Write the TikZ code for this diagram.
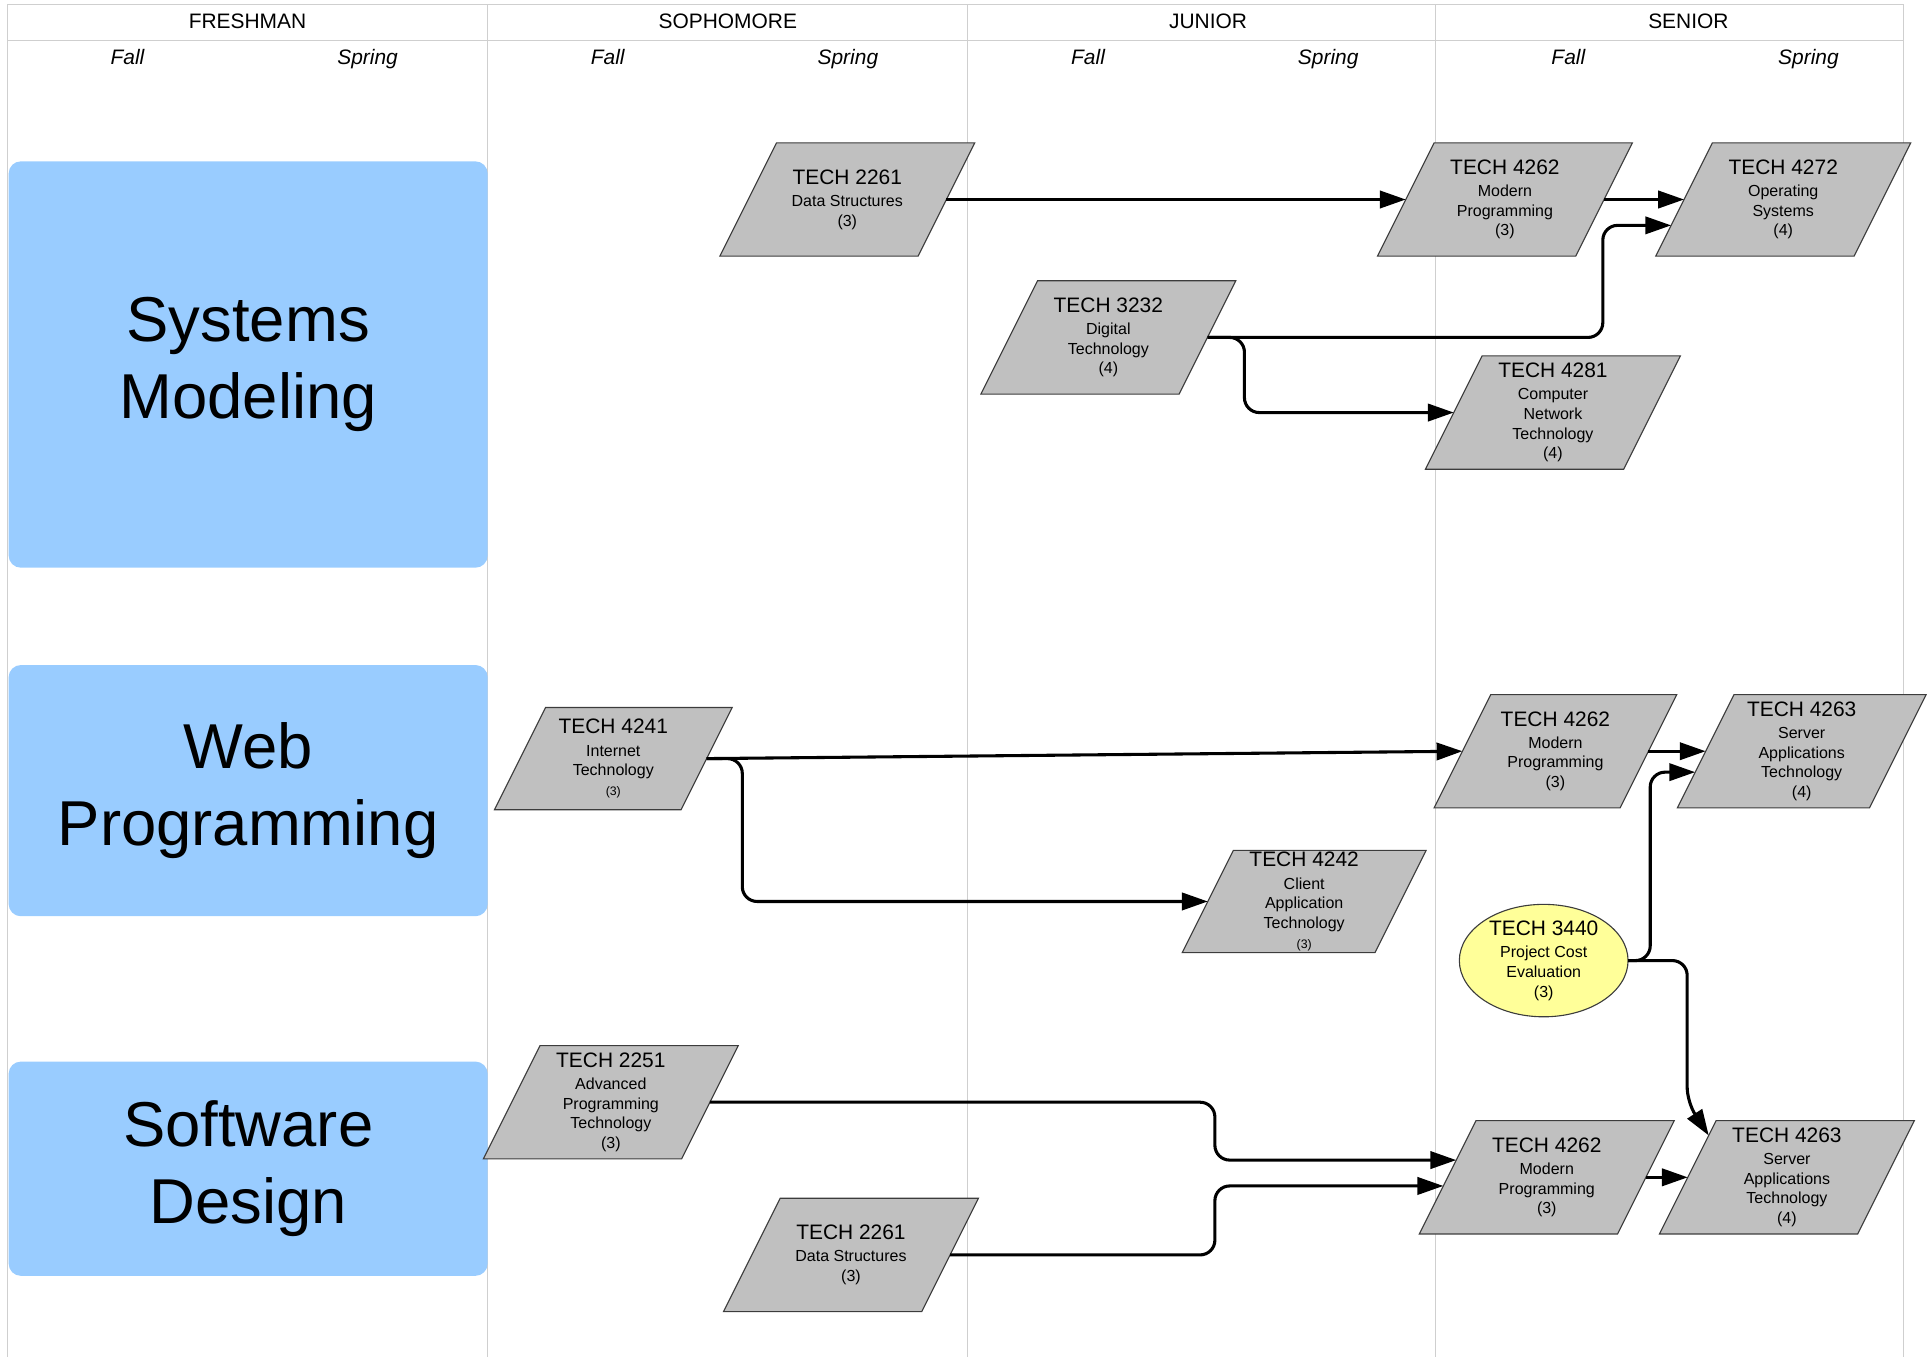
\documentclass[tikz,border=0pt]{standalone}
\usepackage{fontspec}
\setmainfont{Liberation Sans}
\usetikzlibrary{shapes.geometric,arrows.meta,calc}
\definecolor{trackblue}{HTML}{99CCFF}
\definecolor{coursegray}{HTML}{C0C0C0}
\definecolor{courseline}{HTML}{3C3C3C}
\definecolor{electyellow}{HTML}{FFFF99}
\definecolor{gridgray}{HTML}{CFCFCF}
\newcommand{\crs}[2]{{\fontsize{17}{19}\selectfont #1}\\[2pt]#2}
\newcommand{\tinycr}[1]{{\fontsize{10}{12}\selectfont #1}}
% course box: name, x, y, side length, height, text
\newcommand{\course}[6]{%
  \filldraw[coursebox] ({#2-#4/2-#5/4},{#3+#5/2}) -- ++(#4,0) -- ++({#5/2},{-#5})
      -- ++({-#4},0) -- cycle;
  \node[coursetext, minimum width=#4pt, minimum height=#5pt] (#1) at (#2,#3) {#6};
}
\tikzset{
  gridline/.style={gridgray, line width=0.8pt},
  yearlabel/.style={anchor=base, font=\fontsize{17}{20}\selectfont},
  termlabel/.style={anchor=base, font=\fontsize{17}{20}\selectfont\itshape},
  track/.style={fill=trackblue, rounded corners=10pt, align=center, inner sep=0pt,
    minimum width=389pt, font=\fontsize{51.5}{62}\selectfont},
  coursebox/.style={draw=courseline, fill=coursegray, line width=0.9pt},
  coursetext/.style={inner sep=0pt, outer sep=0pt, align=center,
    font=\fontsize{13}{16}\selectfont},
  elective/.style={ellipse, draw=courseline, fill=electyellow, line width=0.9pt,
    inner sep=0pt, outer sep=0pt, align=center, minimum width=137pt, minimum height=88pt,
    font=\fontsize{13}{16}\selectfont},
  prereq/.style={line width=2.5pt, rounded corners=12pt, -{Triangle[length=21pt,width=14pt]}},
}
\begin{document}
\begin{tikzpicture}[x=1pt,y=-1pt]
    \useasboundingbox (0,0) rectangle (1568,1102);
    % Grid
    \draw[gridline] (6,4) -- (1546,4);
    \draw[gridline] (6,33) -- (1546,33);
    \foreach \gx in {6,396,786,1166,1546}
        \draw[gridline] (\gx,4) -- (\gx,1102);
    \foreach \yr [count=\i from 0] in {FRESHMAN,SOPHOMORE,JUNIOR,SENIOR} {
        \node[yearlabel] (yr\i) at (201+390*\i,23) {\yr};
        \node[termlabel] (fall\i) at (103.5+390*\i,52) {Fall};
        \node[termlabel] (spring\i) at (298.5+390*\i,52) {Spring};
    }
    % Tracks
    \node[track, minimum height=330pt] (sys) at (201.5,296) {Systems\\Modeling};
    \node[track, minimum height=204pt] (web) at (201.5,642) {Web\\Programming};
    \node[track, minimum height=174pt] (sw) at (201.5,949) {Software\\Design};
    % Systems Modeling
    \course{sysDS}{688}{162}{161}{92}{\crs{TECH 2261}{Data Structures\\(3)}}
    \course{sysMP}{1222}{162}{161}{92}{\crs{TECH 4262}{Modern\\Programming\\(3)}}
    \course{sysOS}{1448}{162}{161}{92}{\crs{TECH 4272}{Operating\\Systems\\(4)}}
    \course{sysDT}{900}{274}{161}{92}{\crs{TECH 3232}{Digital\\Technology\\(4)}}
    \course{sysCNT}{1261}{335}{161}{92}{\crs{TECH 4281}{Computer\\Network\\Technology\\(4)}}
    % Web Programming
    \course{webIT}{498}{616}{151.5}{83}{\crs{TECH 4241}{Internet\\Technology\\\tinycr{(3)}}}
    \course{webCAT}{1059}{732}{156.5}{83}{\crs{TECH 4242}{Client\\Application\\Technology\\\tinycr{(3)}}}
    \course{webMP}{1263}{610}{151}{92}{\crs{TECH 4262}{Modern\\Programming\\(3)}}
    \course{webSAT}{1463}{610}{156}{92}{\crs{TECH 4263}{Server\\Applications\\Technology\\(4)}}
    \node[elective] (webPCE) at (1253.5,780) {\crs{TECH 3440}{Project Cost\\Evaluation\\(3)}};
    % Software Design
    \course{swAPT}{496}{895}{161}{92}{\crs{TECH 2251}{Advanced\\Programming\\Technology\\(3)}}
    \course{swDS}{691}{1019}{161}{92}{\crs{TECH 2261}{Data Structures\\(3)}}
    \course{swMP}{1256}{956}{161}{92}{\crs{TECH 4262}{Modern\\Programming\\(3)}}
    \course{swSAT}{1451}{956}{161}{92}{\crs{TECH 4263}{Server\\Applications\\Technology\\(4)}}
    % Entry points on the slanted sides
    \coordinate (osIn) at ($(sysOS.west)+(-10.5,21)$);
    \coordinate (satIn) at ($(webSAT.west)+(-8.5,17)$);
    \coordinate (swSatIn) at ($(swSAT.west)+(17,-34)$);
    \coordinate (mpInA) at ($(swMP.west)+(7,-14)$);
    \coordinate (mpInB) at ($(swMP.west)+(-3.5,7)$);
    % Prerequisites
    \draw[prereq] (sysDS.east) -- (sysMP.west);
    \draw[prereq] (sysMP.east) -- (sysOS.west);
    \draw[prereq] (sysDT.east) -- ++(321,0) |- (osIn);
    \draw[prereq] (sysDT.east) -- ++(30,0) |- (sysCNT.west);
    \draw[prereq] (webIT.east) -- (webMP.west);
    \draw[prereq] (webIT.east) -- ++(29,0) |- (webCAT.west);
    \draw[prereq] (webMP.east) -- (webSAT.west);
    \draw[prereq] (webPCE.east) -- ++(18,0) |- (satIn);
    \draw[prereq] (webPCE.east) -- ++(48,0) -- ++(0,115) -- (swSatIn);
    \draw[prereq] (swAPT.east) -- ++(410,0) |- (mpInA);
    \draw[prereq] (swDS.east) -- ++(215,0) |- (mpInB);
    \draw[prereq] (swMP.east) -- (swSAT.west);
\end{tikzpicture}
\end{document}
